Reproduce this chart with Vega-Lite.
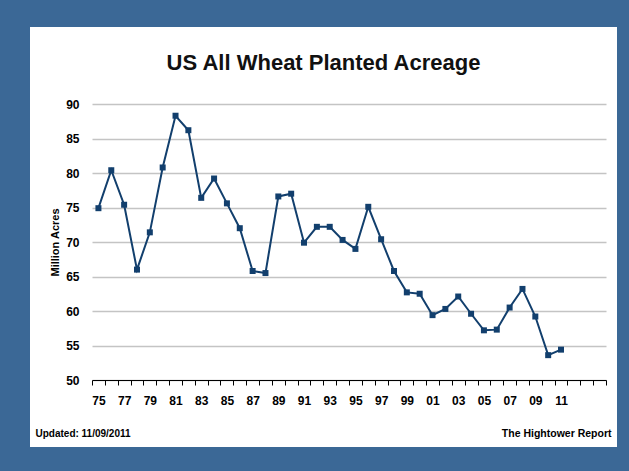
{
  "$schema": "https://vega.github.io/schema/vega-lite/v6.json",
  "width": 587,
  "height": 420,
  "autosize": {"type": "none"},
  "padding": {"left": 30, "top": 27, "right": 12, "bottom": 24},
  "background": "#3b6896",
  "config": {"view": {"fill": "white", "stroke": null}, "font": "Liberation Sans"},
  "title": {"text": "US All Wheat Planted Acreage", "fontSize": 22, "fontWeight": "bold", "color": "#111111", "anchor": "middle", "frame": "group", "baseline": "alphabetic", "offset": -65},
  "data": {"values": [
    {"year": 1975, "acres": 74.9},
    {"year": 1976, "acres": 80.4},
    {"year": 1977, "acres": 75.4},
    {"year": 1978, "acres": 66.0},
    {"year": 1979, "acres": 71.4},
    {"year": 1980, "acres": 80.8},
    {"year": 1981, "acres": 88.3},
    {"year": 1982, "acres": 86.2},
    {"year": 1983, "acres": 76.4},
    {"year": 1984, "acres": 79.2},
    {"year": 1985, "acres": 75.6},
    {"year": 1986, "acres": 72.0},
    {"year": 1987, "acres": 65.8},
    {"year": 1988, "acres": 65.5},
    {"year": 1989, "acres": 76.6},
    {"year": 1990, "acres": 77.0},
    {"year": 1991, "acres": 69.9},
    {"year": 1992, "acres": 72.2},
    {"year": 1993, "acres": 72.2},
    {"year": 1994, "acres": 70.3},
    {"year": 1995, "acres": 69.0},
    {"year": 1996, "acres": 75.1},
    {"year": 1997, "acres": 70.4},
    {"year": 1998, "acres": 65.8},
    {"year": 1999, "acres": 62.7},
    {"year": 2000, "acres": 62.5},
    {"year": 2001, "acres": 59.4},
    {"year": 2002, "acres": 60.3},
    {"year": 2003, "acres": 62.1},
    {"year": 2004, "acres": 59.6},
    {"year": 2005, "acres": 57.2},
    {"year": 2006, "acres": 57.3},
    {"year": 2007, "acres": 60.5},
    {"year": 2008, "acres": 63.2},
    {"year": 2009, "acres": 59.2},
    {"year": 2010, "acres": 53.6},
    {"year": 2011, "acres": 54.4}
  ]},
  "layer": [
    {
      "mark": {"type": "line", "color": "#123f6d", "strokeWidth": 2},
      "encoding": {
        "x": {
          "field": "year", "type": "ordinal", "bandPosition": 0.5,
          "scale": {"type": "band", "domain": [1975,1976,1977,1978,1979,1980,1981,1982,1983,1984,1985,1986,1987,1988,1989,1990,1991,1992,1993,1994,1995,1996,1997,1998,1999,2000,2001,2002,2003,2004,2005,2006,2007,2008,2009,2010,2011,2012,2013,2014], "range": [62, 576], "paddingInner": 0, "paddingOuter": 0},
          "axis": {
            "orient": "bottom", "offset": -67, "tickBand": "extent", "labelAngle": 0,
            "labelExpr": "datum.value % 2 == 1 && datum.value <= 2011 ? slice(toString(datum.value), 2) : ''",
            "labelOverlap": false, "labelPadding": 10, "labelFontSize": 12, "labelFontWeight": "bold", "labelColor": "black",
            "tickSize": 5, "tickColor": "black", "domainColor": "black", "domainWidth": 1, "grid": false,
            "title": "The Hightower Report", "titleX": 581, "titleY": 53, "titleAlign": "right", "titleBaseline": "middle",
            "titleFontSize": 10.5, "titleFontWeight": "bold", "titleColor": "black"
          }
        },
        "y": {
          "field": "acres", "type": "quantitative",
          "scale": {"domain": [50, 90], "range": [353, 77], "nice": false, "zero": false},
          "axis": {
            "offset": -62, "values": [50, 55, 60, 65, 70, 75, 80, 85, 90], "domain": false, "ticks": false, "tickSize": 0,
            "labelPadding": 13, "labelFontSize": 12, "labelFontWeight": "bold", "labelColor": "black",
            "grid": true, "gridColor": "#c4c4c4", "gridWidth": 1.5,
            "title": "Million Acres", "titleFontSize": 11, "titleFontWeight": "bold", "titleColor": "black", "titlePadding": 5
          }
        }
      }
    },
    {
      "mark": {"type": "square", "size": 36, "color": "#123f6d", "opacity": 1},
      "encoding": {
        "x": {
          "field": "year", "type": "ordinal", "bandPosition": 0.5,
          "axis": {
            "orient": "top", "domain": false, "ticks": false, "labels": false, "grid": false,
            "title": "Updated: 11/09/2011", "titleX": 5, "titleY": 406, "titleAlign": "left", "titleBaseline": "middle",
            "titleFontSize": 10, "titleFontWeight": "bold", "titleColor": "black", "titleAngle": 0
          }
        },
        "y": {"field": "acres", "type": "quantitative"}
      }
    }
  ],
  "resolve": {"axis": {"x": "independent"}}
}
